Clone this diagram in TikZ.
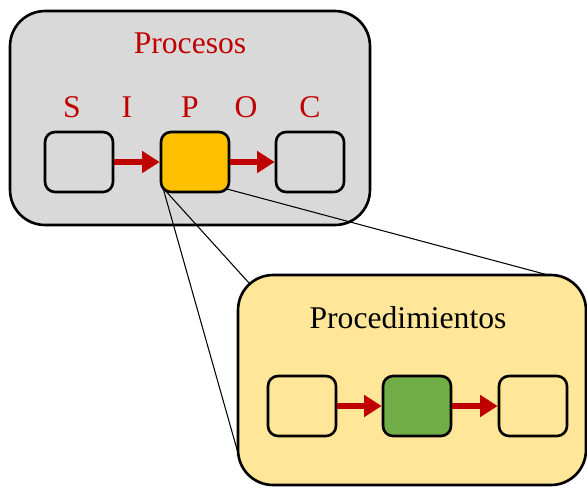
\documentclass[tikz,border=0pt]{standalone}
\usepackage{fontspec}
\setmainfont{Liberation Serif}
\usetikzlibrary{arrows.meta, positioning}
\definecolor{procgray}{HTML}{D9D9D9}
\definecolor{procgold}{HTML}{FFC000}
\definecolor{procgreen}{HTML}{70AD47}
\definecolor{procsand}{HTML}{FFE699}
\definecolor{procred}{HTML}{C00000}

\begin{document}
\begin{tikzpicture}[
    x=0.02cm, y=-0.02cm,
    every node/.style={align=center, font=\fontsize{18}{21}\selectfont},
    panel/.style={draw, line width=1.5pt, rounded corners=0.7cm},
    step box/.style={draw, line width=1.5pt, rounded corners=0.2cm, minimum width=1.36cm, minimum height=1.2cm},
    flow/.style={-{Triangle[length=10pt, width=12pt]}, line width=3.4pt, procred},
    zoomline/.style={line width=0.6pt}
]
    \useasboundingbox (0,0) rectangle (587,487);

    % Panels
    \node[panel, fill=procgray, minimum width=7.2cm, minimum height=4.28cm] (procesos) at (190,118) {};
    \node[text=procred] (tit1) at (190,43) {Procesos};
    \node[text=procred] (s) at (72,107) {S};
    \node[text=procred] (i) at (127,107) {I};
    \node[text=procred] (p) at (190,107) {P};
    \node[text=procred] (o) at (246,107) {O};
    \node[text=procred] (c) at (310,107) {C};

    \node[step box, fill=procgray] (sb) at (79,162) {};
    \node[step box, fill=procgray] (ob) at (310,162) {};

    % Zoom lines
    \coordinate (z1) at (249,283);
    \coordinate (z2) at (238,453);
    \coordinate (z3) at (548,275);
    \coordinate (pl) at (163,188);
    \coordinate (pr) at (227,189);
    \draw[zoomline] (pl) -- (z1);
    \draw[zoomline] (pl) -- (z2);
    \draw[zoomline] (pr) -- (z3);

    \node[step box, fill=procgold] (pb) at (195,162) {};

    \node[panel, fill=procsand, minimum width=6.96cm, minimum height=4.2cm] (procedimientos) at (412,380) {};
    \node (tit2) at (408,318) {Procedimientos};

    \node[step box, fill=procsand] (b1) at (302,406) {};
    \node[step box, fill=procgreen] (b2) at (417,406) {};
    \node[step box, fill=procsand] (b3) at (533,406) {};

    % Arrows
    \draw[flow] (sb) -- (pb);
    \draw[flow] (pb) -- (ob);
    \draw[flow] (b1) -- (b2);
    \draw[flow] (b2) -- (b3);

\end{tikzpicture}
\end{document}
